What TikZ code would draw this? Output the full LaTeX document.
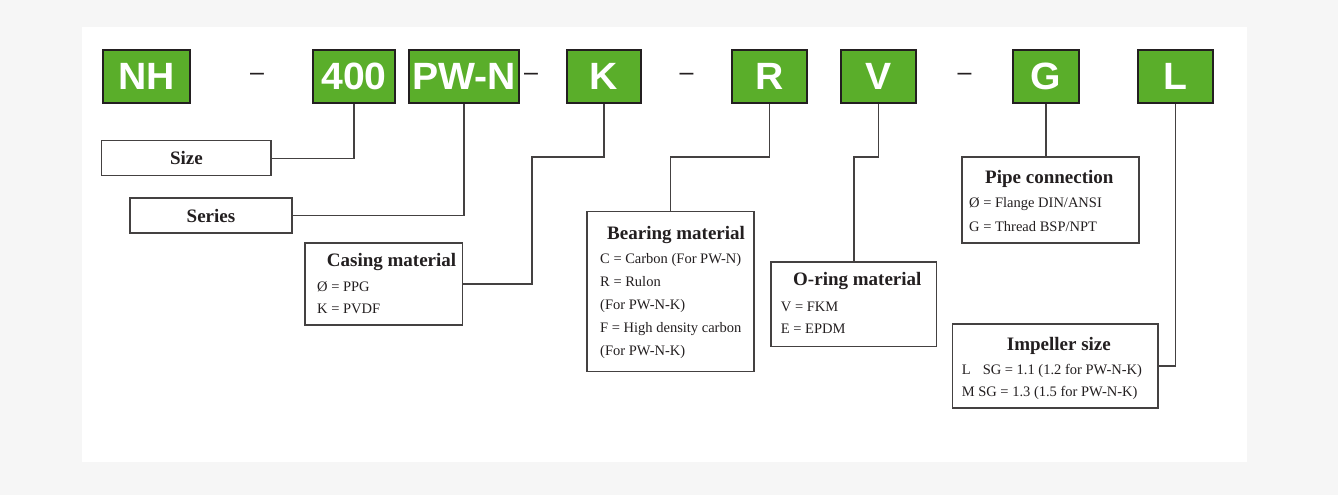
\documentclass[tikz,border=0pt]{standalone}
\usepackage{fontspec}
\setmainfont{Liberation Serif}
\newfontfamily\boxfont[FakeStretch=1.03]{Liberation Sans}
\newfontfamily\dashfont{Liberation Sans}
\definecolor{gr}{RGB}{90,174,42}
\definecolor{ink}{RGB}{35,31,32}
\definecolor{bgout}{RGB}{246,246,246}
\begin{document}
\begin{tikzpicture}[x=1pt,y=-1pt,
  gbox/.style={draw=ink, line width=1.2pt, fill=gr, text=white, inner sep=0pt,
    minimum height=53pt, font=\boxfont\bfseries\fontsize{38}{38}\selectfont},
  lbox/.style={draw=ink!85, line width=1.2pt, fill=white, inner sep=0pt},
  ttl/.style={anchor=base west, inner sep=0pt, text=ink, font=\bfseries\fontsize{19}{19}\selectfont},
  bd/.style={anchor=base west, inner sep=0pt, text=ink, font=\fontsize{14.5}{14.5}\selectfont},
  dashmark/.style={anchor=base, inner sep=0pt, text=ink, font=\dashfont\fontsize{25}{25}\selectfont},
  conn/.style={draw=ink!85, line width=1.2pt}]
\useasboundingbox (0,0) rectangle (1338,495);
\fill[bgout] (0,0) rectangle (1338,495);
\fill[white] (82,27) rectangle (1247,462);

% code boxes
\node[gbox, minimum width=87pt] (nh) at (146.5,76.5) {NH};
\node[gbox, minimum width=82pt] (n400) at (354,76.5) {400};
\node[gbox, minimum width=110pt] (pwn) at (464,76.5) {PW-N};
\node[gbox, minimum width=74pt] (k) at (604,76.5) {K};
\node[gbox, minimum width=75pt] (r) at (769.5,76.5) {R};
\node[gbox, minimum width=75pt] (v) at (878.5,76.5) {V};
\node[gbox, minimum width=66pt] (g) at (1046,76.5) {G};
\node[gbox, minimum width=75pt] (l) at (1175.5,76.5) {L};

% dashes
\node[dashmark] (d1) at (257,81) {–};
\node[dashmark] (d2) at (531,81) {–};
\node[dashmark] (d3) at (686.5,81) {–};
\node[dashmark] (d4) at (964.5,81) {–};

% label boxes
\node[lbox, minimum width=169.3pt, minimum height=35pt, text=ink,
  font=\bfseries\fontsize{19}{19}\selectfont] (size) at (186.4,158.2) {Size};
\node[lbox, minimum width=162pt, minimum height=35pt, text=ink,
  font=\bfseries\fontsize{19}{19}\selectfont] (series) at (211,215.5) {Series};
\node[lbox, minimum width=157.7pt, minimum height=82pt] (casing) at (383.9,284) {};
\node[lbox, minimum width=167pt, minimum height=160pt] (bearing) at (670.5,291.7) {};
\node[lbox, minimum width=165.7pt, minimum height=84.7pt] (oring) at (853.9,304.3) {};
\node[lbox, minimum width=177pt, minimum height=86pt] (pipe) at (1050.5,200) {};
\node[lbox, minimum width=205.3pt, minimum height=84pt] (impeller) at (1055.4,366) {};

% texts
\node[ttl] (ct) at (326.7,266.7) {Casing material};
\node[bd] (c1) at (317,291) {Ø = PPG};
\node[bd] (c2) at (317,313) {K = PVDF};

\node[ttl] (bt) at (607,239) {Bearing material};
\node[bd] (b1) at (600,263) {C = Carbon (For PW-N)};
\node[bd] (b2) at (600,286) {R = Rulon};
\node[bd] (b3) at (600,309) {(For PW-N-K)};
\node[bd] (b4) at (600,332) {F = High density carbon};
\node[bd] (b5) at (600,355) {(For PW-N-K)};

\node[ttl] (ot) at (793,285.7) {O-ring material};
\node[bd] (o1) at (780.7,311.7) {V = FKM};
\node[bd] (o2) at (780.7,333.3) {E = EPDM};

\node[ttl] (pt) at (985,183) {Pipe connection};
\node[bd] (p1) at (969,207) {Ø = Flange DIN/ANSI};
\node[bd] (p2) at (969,231) {G = Thread BSP/NPT};

\node[ttl] (it) at (1006.7,350.7) {Impeller size};
\node[bd] (i1) at (961.7,374) {L\hspace{12pt}SG = 1.1 (1.2 for PW-N-K)};
\node[bd] (i2) at (961.7,396) {M\hspace{3.5pt}SG = 1.3 (1.5 for PW-N-K)};

% connectors
\coordinate (hk) at (0,157);
\coordinate (kbend) at (532,157);
\draw[conn] (n400.south) |- (size.east);
\draw[conn] (pwn.south) |- (series.east);
\draw[conn] (k.south) |- (kbend) |- (casing.east);
\draw[conn] (r.south) |- (bearing.north |- hk) -- (bearing.north);
\draw[conn] (v.south) |- (oring.north |- hk) -- (oring.north);
\draw[conn] (g.south) -- (g.south |- pipe.north);
\draw[conn] (l.south) |- (impeller.east);
\end{tikzpicture}
\end{document}
